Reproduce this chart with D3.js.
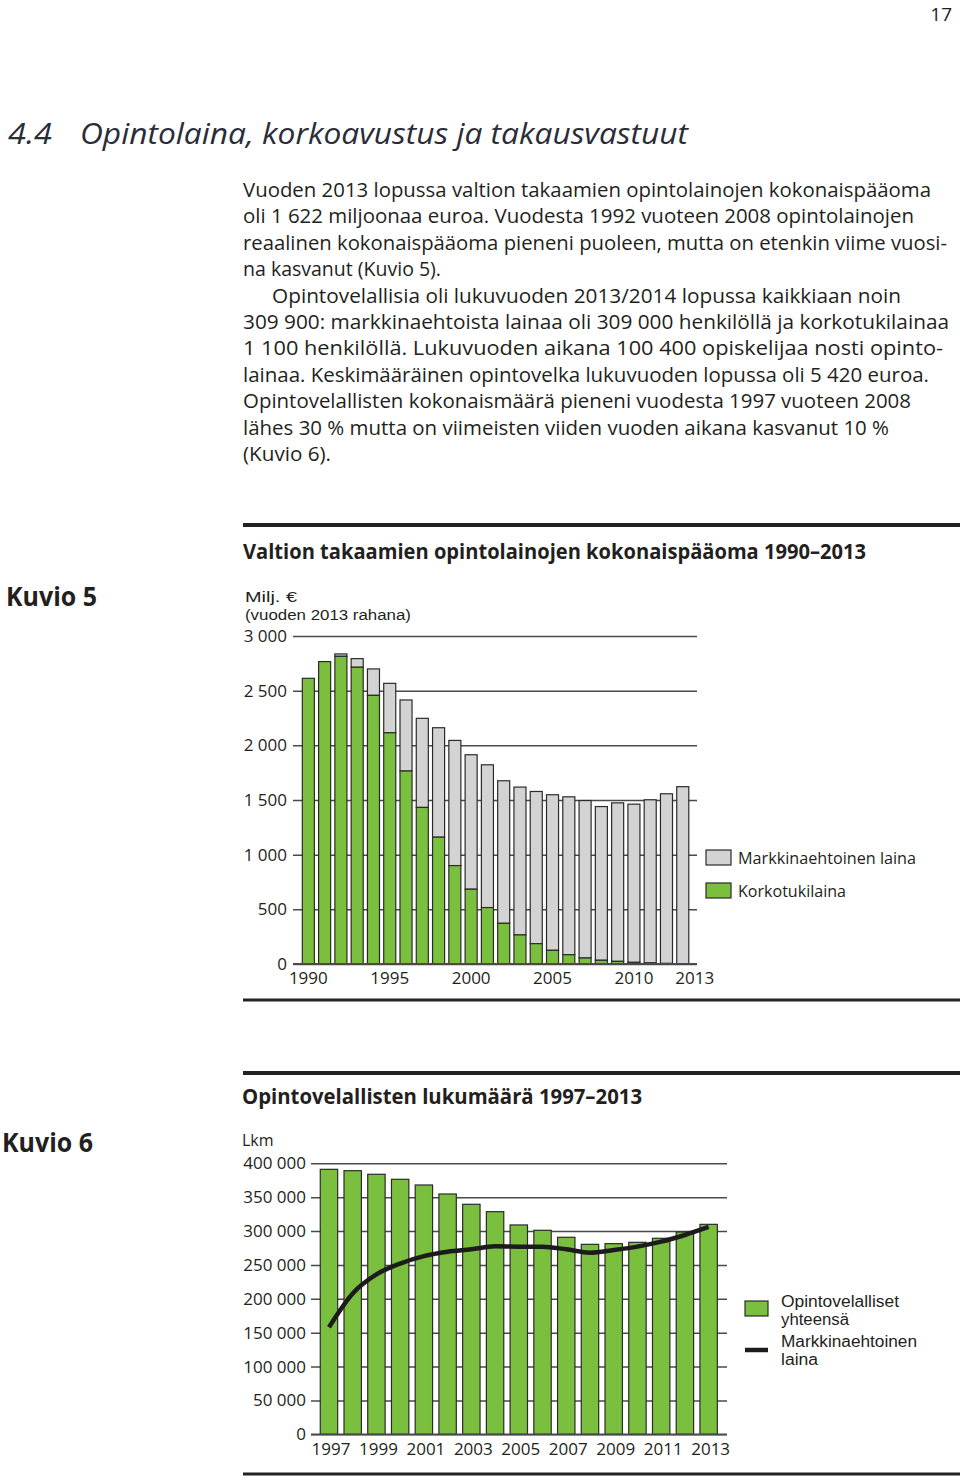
<!DOCTYPE html>
<html><head><meta charset="utf-8">
<script src="https://cdn.jsdelivr.net/npm/d3@7"></script>
<style>body{margin:0;background:#fff}svg{display:block}</style>
</head><body>
<svg id="c" width="960" height="1478"></svg>
<script>
// ---------- data ----------
const years1 = [1990,1991,1992,1993,1994,1995,1996,1997,1998,1999,2000,2001,2002,2003,2004,2005,2006,2007,2008,2009,2010,2011,2012,2013];
const totalLoan = [2613,2766,2836,2793,2699,2567,2415,2247,2161,2045,1914,1822,1676,1618,1578,1548,1529,1495,1440,1474,1462,1502,1557,1622];
const subsidisedLoan = [2613,2766,2814,2714,2457,2115,1765,1432,1160,900,684,516,372,266,186,125,85,55,34,24,15,10,5,2];
const yTicks1 = [0,500,1000,1500,2000,2500,3000];
const xTicks1 = [1990,1995,2000,2005,2010,2013];

const years2 = [1997,1998,1999,2000,2001,2002,2003,2004,2005,2006,2007,2008,2009,2010,2011,2012,2013];
const debtorsTotal = [391100,389100,383800,376400,368000,354700,339500,328600,309000,301100,290800,280400,281400,283400,289300,298600,309900];
const debtorsMarket = [158000,208000,236000,252000,263000,269500,273000,277500,277000,277000,273000,268000,272000,277000,284300,294200,306000];
const yTicks2 = [0,50000,100000,150000,200000,250000,300000,350000,400000];
const xTicks2 = [1997,1999,2001,2003,2005,2007,2009,2011,2013];

const bodyLines = [
 "Vuoden 2013 lopussa valtion takaamien opintolainojen kokonaispääoma",
 "oli 1 622 miljoonaa euroa. Vuodesta 1992 vuoteen 2008 opintolainojen",
 "reaalinen kokonaispääoma pieneni puoleen, mutta on etenkin viime vuosi-",
 "na kasvanut (Kuvio 5).",
 "Opintovelallisia oli lukuvuoden 2013/2014 lopussa kaikkiaan noin",
 "309 900: markkinaehtoista lainaa oli 309 000 henkilöllä ja korkotukilainaa",
 "1 100 henkilöllä. Lukuvuoden aikana 100 400 opiskelijaa nosti opinto-",
 "lainaa. Keskimääräinen opintovelka lukuvuoden lopussa oli 5 420 euroa.",
 "Opintovelallisten kokonaismäärä pieneni vuodesta 1997 vuoteen 2008",
 "lähes 30 % mutta on viimeisten viiden vuoden aikana kasvanut 10 %",
 "(Kuvio 6)."
];
const bodyX0 = [243,243,243,243,272,243,243,243,243,243,243];
const bodyX1 = [931,914,947,441,901,949,943,929,911,889,331];

// ---------- setup ----------
const svg = d3.select("#c");
const GREEN = "#7bbf3f", GREY = "#d3d3d3", INK = "#231f20", STROKE = "#2b2b2b", GRID = "#4a4a4a";
const SANS = "'Open Sans', 'Noto Sans', sans-serif";
const TIGHT = "'Liberation Sans', Arial, sans-serif";
const fmt = d3.formatLocale({decimal:",", thousands:" ", grouping:[3], currency:["","€"]}).format(",");

// page number
svg.append("text").attr("x",952).attr("y",21).attr("text-anchor","end")
  .attr("font-family",SANS).attr("font-size",19).attr("fill",INK).text("17");

// heading
svg.append("text").attr("x",8).attr("y",144).attr("font-family",SANS).attr("font-style","italic")
  .attr("font-size",30).attr("fill","#2a2d38").attr("textLength",44).attr("lengthAdjust","spacingAndGlyphs").text("4.4");
svg.append("text").attr("x",80).attr("y",144).attr("font-family",SANS).attr("font-style","italic")
  .attr("font-size",30).attr("fill","#2a2d38").attr("textLength",608).attr("lengthAdjust","spacingAndGlyphs")
  .text("Opintolaina, korkoavustus ja takausvastuut");

// body text
bodyLines.forEach((t,i)=>{
  svg.append("text").attr("x",bodyX0[i]).attr("y",197+i*26.4)
    .attr("font-family",SANS).attr("font-size",19.5).attr("fill",INK)
    .attr("textLength",bodyX1[i]-bodyX0[i]).attr("lengthAdjust","spacingAndGlyphs").text(t);
});

function rule(y,w){ svg.append("line").attr("x1",243).attr("x2",960).attr("y1",y).attr("y2",y).attr("stroke","#222").attr("stroke-width",w); }
function label(x,y,t,opts={}){
  const s = svg.append("text").attr("x",x).attr("y",y).attr("font-family",opts.font||SANS)
    .attr("font-size",opts.size||16.5).attr("fill",INK).text(t);
  if(opts.weight) s.attr("font-weight",opts.weight);
  if(opts.len) s.attr("textLength",opts.len).attr("lengthAdjust","spacingAndGlyphs");
  return s;
}

// ---------- Kuvio 5 ----------
rule(525,4);
label(243,559,"Valtion takaamien opintolainojen kokonaispääoma 1990–2013",{size:21,weight:"bold",len:623});
label(6,606,"Kuvio 5",{size:27,weight:"bold",len:91});
label(245,602,"Milj. €",{size:15.5,font:TIGHT,len:52});
label(245,620,"(vuoden 2013 rahana)",{size:15.5,font:TIGHT,len:166});

const x1 = d3.scaleBand().domain(years1).range([300.2,690.9]).paddingInner(0.26).paddingOuter(0.13);
const y1 = d3.scaleLinear().domain([0,3000]).range([964,636]);

const gy1 = svg.append("g").attr("transform","translate(293,0)")
  .call(d3.axisLeft(y1).tickValues(yTicks1).tickSize(-404).tickPadding(6).tickFormat(fmt));
gy1.select(".domain").remove();
gy1.selectAll(".tick line").attr("stroke",GRID).attr("stroke-width",1.5);
gy1.selectAll(".tick text").attr("font-family",SANS).attr("font-size",17).attr("fill",INK);

const bars1 = svg.append("g");
years1.forEach((yr,i)=>{
  const bx = x1(yr), bw = x1.bandwidth();
  bars1.append("rect").attr("x",bx).attr("width",bw)
    .attr("y",y1(totalLoan[i])).attr("height",y1(subsidisedLoan[i])-y1(totalLoan[i]))
    .attr("fill",GREY).attr("stroke",STROKE).attr("stroke-width",1.2);
  bars1.append("rect").attr("x",bx).attr("width",bw)
    .attr("y",y1(subsidisedLoan[i])).attr("height",y1(0)-y1(subsidisedLoan[i]))
    .attr("fill",GREEN).attr("stroke",STROKE).attr("stroke-width",1.2);
});
svg.append("line").attr("x1",293).attr("x2",697).attr("y1",y1(0)).attr("y2",y1(0)).attr("stroke",GRID).attr("stroke-width",1.8);

const gx1 = svg.append("g").attr("transform",`translate(0,${y1(0)})`)
  .call(d3.axisBottom(x1).tickValues(xTicks1).tickSize(0).tickPadding(8));
gx1.select(".domain").remove();
gx1.selectAll(".tick text").attr("font-family",SANS).attr("font-size",17).attr("fill",INK)
  .attr("dx",d=>d===2013?12:0);

// legend 1
svg.append("rect").attr("x",706).attr("y",850).attr("width",25).attr("height",15).attr("fill",GREY).attr("stroke",STROKE).attr("stroke-width",1.2);
label(738,864,"Markkinaehtoinen laina",{size:17,len:178});
svg.append("rect").attr("x",706).attr("y",883).attr("width",25).attr("height",15).attr("fill",GREEN).attr("stroke",STROKE).attr("stroke-width",1.2);
label(738,897,"Korkotukilaina",{size:17,len:108});
rule(1000,3);

// ---------- Kuvio 6 ----------
rule(1073,4);
label(242,1104,"Opintovelallisten lukumäärä 1997–2013",{size:21,weight:"bold",len:400});
label(2,1152,"Kuvio 6",{size:27,weight:"bold",len:91});
label(242,1146,"Lkm",{size:16});

const x2 = d3.scaleBand().domain(years2).range([317.1,720.5]).paddingInner(0.267).paddingOuter(0.1335);
const y2 = d3.scaleLinear().domain([0,400000]).range([1434.3,1163.3]);

const gy2 = svg.append("g").attr("transform","translate(311,0)")
  .call(d3.axisLeft(y2).tickValues(yTicks2).tickSize(-416).tickPadding(5).tickFormat(fmt));
gy2.select(".domain").remove();
gy2.selectAll(".tick line").attr("stroke",GRID).attr("stroke-width",1.5);
gy2.selectAll(".tick text").attr("font-family",SANS).attr("font-size",17).attr("fill",INK);

svg.append("g").selectAll("rect").data(years2).join("rect")
  .attr("x",d=>x2(d)).attr("width",x2.bandwidth())
  .attr("y",(d,i)=>y2(debtorsTotal[i])).attr("height",(d,i)=>y2(0)-y2(debtorsTotal[i]))
  .attr("fill",GREEN).attr("stroke",STROKE).attr("stroke-width",1.2);
svg.append("line").attr("x1",311).attr("x2",727).attr("y1",y2(0)).attr("y2",y2(0)).attr("stroke",GRID).attr("stroke-width",1.8);

const line = d3.line().x((d,i)=>x2(years2[i])+x2.bandwidth()/2).y(d=>y2(d)).curve(d3.curveMonotoneX);
svg.append("path").datum(debtorsMarket).attr("d",line).attr("fill","none")
  .attr("stroke","#1c1c1c").attr("stroke-width",4.5).attr("stroke-linejoin","round");

const gx2 = svg.append("g").attr("transform",`translate(2,${y2(0)})`)
  .call(d3.axisBottom(x2).tickValues(xTicks2).tickSize(0).tickPadding(9));
gx2.select(".domain").remove();
gx2.selectAll(".tick text").attr("font-family",SANS).attr("font-size",17).attr("fill",INK);

// legend 2
svg.append("rect").attr("x",745).attr("y",1301).attr("width",23).attr("height",15).attr("fill",GREEN).attr("stroke",STROKE).attr("stroke-width",1.2);
label(781,1307,"Opintovelalliset",{size:16,font:TIGHT,len:118});
label(781,1325,"yhteensä",{size:16,font:TIGHT,len:68});
svg.append("line").attr("x1",745).attr("x2",768).attr("y1",1350).attr("y2",1350).attr("stroke","#1c1c1c").attr("stroke-width",4.5);
label(781,1347,"Markkinaehtoinen",{size:16,font:TIGHT,len:136});
label(781,1365,"laina",{size:16,font:TIGHT,len:37});
rule(1474,3);
</script>
</body></html>
